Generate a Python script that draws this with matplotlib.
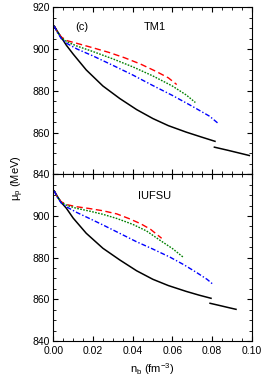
import matplotlib
matplotlib.use("Agg")
import matplotlib.pyplot as plt
from matplotlib.ticker import MultipleLocator

plt.rcParams['font.family'] = ['Liberation Sans', 'DejaVu Sans']
plt.rcParams['mathtext.fontset'] = 'custom'
plt.rcParams['mathtext.rm'] = 'Liberation Sans'
plt.rcParams['mathtext.it'] = 'Liberation Sans:italic'

# ---- TM1 (top panel) ----
tm1_black_n = [0.0005, 0.002, 0.004, 0.0066, 0.010, 0.0166, 0.025, 0.0335, 0.042, 0.0502, 0.058, 0.067, 0.0745, 0.0815]
tm1_black_mu = [911.0, 908.6, 905.6, 901.8, 897.6, 890.0, 882.3, 876.3, 871.0, 866.7, 863.3, 860.2, 857.9, 855.8]
tm1_black2_n = [0.0812, 0.088, 0.0945, 0.0988]
tm1_black2_mu = [853.0, 851.5, 850.0, 849.0]
tm1_red_n = [0.0005, 0.002, 0.004, 0.007, 0.012, 0.020, 0.028, 0.036, 0.044, 0.052, 0.058, 0.0622]
tm1_red_mu = [911.0, 908.3, 905.8, 904.0, 902.7, 900.6, 898.4, 895.8, 892.8, 889.2, 886.2, 883.0]
tm1_green_n = [0.0005, 0.002, 0.004, 0.007, 0.012, 0.020, 0.030, 0.040, 0.050, 0.060, 0.067, 0.0716]
tm1_green_mu = [911.0, 908.2, 905.5, 903.4, 901.4, 898.8, 895.3, 891.5, 887.2, 882.3, 878.0, 874.4]
tm1_blue_n = [0.0005, 0.002, 0.004, 0.007, 0.012, 0.020, 0.030, 0.040, 0.050, 0.060, 0.070, 0.0788, 0.0832]
tm1_blue_mu = [911.0, 908.0, 905.0, 902.6, 900.0, 896.7, 892.2, 887.6, 882.6, 877.8, 872.6, 867.8, 864.3]

# ---- IUFSU (bottom panel) ----
iu_black_n = [0.0005, 0.002, 0.004, 0.0066, 0.010, 0.0166, 0.025, 0.0335, 0.042, 0.0502, 0.058, 0.067, 0.0735, 0.0795]
iu_black_mu = [912.0, 909.5, 906.5, 903.7, 899.0, 891.7, 884.5, 878.9, 873.7, 869.6, 866.6, 863.8, 862.0, 860.5]
iu_black2_n = [0.079, 0.084, 0.088, 0.0921]
iu_black2_mu = [858.1, 857.0, 856.1, 855.2]
iu_red_n = [0.0005, 0.002, 0.004, 0.007, 0.012, 0.018, 0.025, 0.032, 0.038, 0.044, 0.049, 0.0546]
iu_red_mu = [912.0, 909.2, 906.8, 905.4, 904.4, 903.6, 902.5, 901.0, 898.8, 896.3, 893.6, 889.3]
iu_green_n = [0.0005, 0.002, 0.004, 0.007, 0.012, 0.018, 0.025, 0.032, 0.040, 0.047, 0.054, 0.060, 0.0655]
iu_green_mu = [912.0, 909.1, 906.6, 905.0, 903.6, 902.4, 900.8, 898.8, 896.0, 892.8, 888.2, 884.4, 880.2]
iu_blue_n = [0.0005, 0.002, 0.004, 0.007, 0.012, 0.018, 0.025, 0.033, 0.0418, 0.050, 0.0587, 0.066, 0.072, 0.0775, 0.0805]
iu_blue_mu = [912.0, 909.0, 906.2, 904.2, 901.6, 898.9, 895.7, 891.9, 887.7, 884.2, 880.3, 876.5, 873.0, 869.6, 867.2]

y_ticks = [840, 860, 880, 900, 920]
x_ticks = [0.00, 0.02, 0.04, 0.06, 0.08, 0.10]
x_tick_labels = ['0.00', '0.02', '0.04', '0.06', '0.08', '0.10']

fig = plt.figure(figsize=(2.66, 3.80), dpi=100)
L, R = 53.3 / 266, 251.7 / 266
ax1 = fig.add_axes([L, 1 - 174.3 / 380, R - L, (174.3 - 7.3) / 380])
ax2 = fig.add_axes([L, 1 - 341.0 / 380, R - L, (341.0 - 174.3) / 380])

lw = 1.0
dash_red = (0, (4.5, 2.5))
dot_green = (0, (1.2, 1.0))
dashdot_blue = (0, (3.5, 1.5, 1.0, 1.5))

def draw(ax, bn, bmu, b2n, b2mu, rn, rmu, gn, gmu, un, umu):
    ax.plot(bn, bmu, color='black', lw=1.1)
    ax.plot(b2n, b2mu, color='black', lw=1.1)
    ax.plot(rn, rmu, color='#ff0000', lw=lw, linestyle=dash_red)
    ax.plot(gn, gmu, color='#008000', lw=lw, linestyle=dot_green)
    ax.plot(un, umu, color='#0000ff', lw=lw, linestyle=dashdot_blue)

draw(ax1, tm1_black_n, tm1_black_mu, tm1_black2_n, tm1_black2_mu,
     tm1_red_n, tm1_red_mu, tm1_green_n, tm1_green_mu, tm1_blue_n, tm1_blue_mu)
draw(ax2, iu_black_n, iu_black_mu, iu_black2_n, iu_black2_mu,
     iu_red_n, iu_red_mu, iu_green_n, iu_green_mu, iu_blue_n, iu_blue_mu)

for ax in (ax1, ax2):
    ax.set_xlim(0.0, 0.10)
    ax.set_ylim(840, 920)
    ax.set_xticks(x_ticks)
    ax.set_yticks(y_ticks)
    ax.xaxis.set_minor_locator(MultipleLocator(0.005))
    ax.yaxis.set_minor_locator(MultipleLocator(5))
    ax.tick_params(which='both', direction='in', top=True, right=True, labelsize=7.5)
    ax.tick_params(axis='y', pad=2.5)
    ax.tick_params(axis='x', pad=3.5)
    ax.tick_params(which='major', length=3.5, width=0.8)
    ax.tick_params(which='minor', length=2.0, width=0.6)
    for s in ax.spines.values():
        s.set_linewidth(0.8)

ax1.set_xticklabels([])
ax2.set_xticklabels(x_tick_labels)
ax1.set_yticklabels([str(v) for v in y_ticks])
ax2.set_yticklabels([str(v) for v in y_ticks[:-1]] + [''])

ax1.text(0.146, 0.88, '(c)', transform=ax1.transAxes, fontsize=8, ha='center', va='center')
ax1.text(0.51, 0.88, 'TM1', transform=ax1.transAxes, fontsize=8, ha='center', va='center')
ax2.text(0.51, 0.87, 'IUFSU', transform=ax2.transAxes, fontsize=8, ha='center', va='center')

fig.text(18 / 266, 1 - 178 / 380, 'μ$_{\\rm p}$ (MeV)', rotation=90, ha='center', va='center', fontsize=8)
fig.text(152 / 266, 1 - 369 / 380, 'n$_{\\rm b}$ (fm$^{-3}$)', ha='center', va='center', fontsize=8)

fig.savefig('out.png', dpi=100)
